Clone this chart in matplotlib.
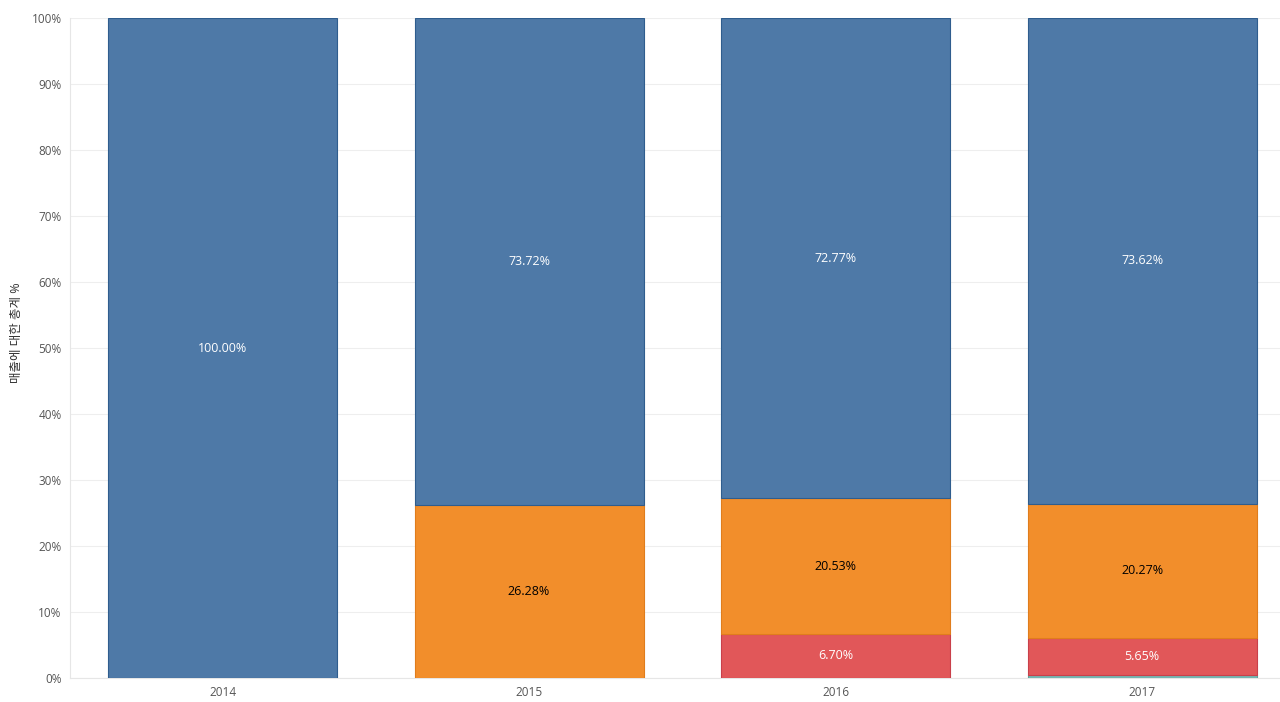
import matplotlib
matplotlib.use("Agg")
from matplotlib import pyplot as plt
from matplotlib.ticker import FuncFormatter
import numpy as np

plt.rcParams['font.family'] = ['Open Sans', 'Noto Sans CJK KR', 'DejaVu Sans']

# data (percent of sales per year)
years = ['2014', '2015', '2016', '2017']
teal = [0.0, 0.0, 0.0, 0.46]
red = [0.0, 0.0, 6.70, 5.65]
orange = [0.0, 26.28, 20.53, 20.27]
blue = [100.0, 73.72, 72.77, 73.62]

# bottom to top stacking order
series = [
    (teal, '#76b7b2', '#5f9e99', 'white'),
    (red, '#e15759', '#c9404a', 'white'),
    (orange, '#f28e2b', '#e07d1c', 'black'),
    (blue, '#4e79a7', '#2f5d8e', 'white'),
]

fig = plt.figure(figsize=(12.8, 7.02), dpi=100)
ax = fig.add_axes([70 / 1280, 1 - 678 / 702, 1 - 70 / 1280, 660 / 702])

x = np.arange(len(years))
bottom = np.zeros(len(years))
for vals, col, edge, txtcol in series:
    vals = np.array(vals)
    ax.bar(x, vals, bottom=bottom, width=0.747, color=col, edgecolor=edge,
           linewidth=0.8, zorder=3)
    for i, v in enumerate(vals):
        if v >= 1:
            ax.text(x[i], bottom[i] + v / 2, f'{v:.2f}%', ha='center', va='center',
                    color=txtcol, fontsize=9, zorder=4)
    bottom += vals

ax.set_xlim(-0.4976, 3.45)
ax.set_ylim(0, 100)
ax.set_xticks(x)
ax.set_xticklabels(years)
ax.set_yticks(np.arange(0, 101, 10))
ax.yaxis.set_major_formatter(FuncFormatter(lambda v, p: f'{v:.0f}%'))
ax.tick_params(axis='both', length=0, labelsize=8.5, colors='#555555', pad=6)
ax.grid(axis='y', color='#eeeeee', linewidth=0.8, zorder=0)

for side in ['top', 'right']:
    ax.spines[side].set_visible(False)
ax.spines['left'].set_color('#e6e6e6')
ax.spines['bottom'].set_color('#e6e6e6')

# axis title placed by hand so it is not cut at the left edge
fig.text(17 / 1280, 1 - 333 / 702, '매출에 대한 총계 %', rotation=90, ha='center',
         va='center', fontsize=9, color='#333333')

fig.savefig('out.png', dpi=100)
